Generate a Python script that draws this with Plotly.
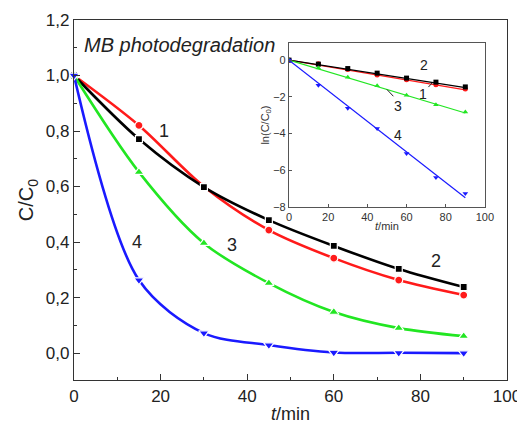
import plotly.graph_objects as go

# ---------------- data ----------------
t = [0, 15, 30, 45, 60, 75, 90]
s1 = [1.0, 0.82, 0.60, 0.443, 0.342, 0.263, 0.209]   # red circles
s2 = [1.0, 0.771, 0.598, 0.479, 0.386, 0.303, 0.238]  # black squares
s3 = [1.0, 0.652, 0.396, 0.252, 0.148, 0.09, 0.061]   # green triangles
s4 = [1.0, 0.263, 0.072, 0.029, 0.002, 0.001, 0.0]    # blue down triangles

# inset: ln(C/C0)
ln1 = [0, -0.20, -0.51, -0.81, -1.07, -1.34, -1.58]
ln2 = [0, -0.22, -0.46, -0.71, -0.98, -1.20, -1.46]
ln3 = [0, -0.43, -0.93, -1.40, -1.91, -2.43, -2.82]
ln4 = [0, -1.37, -2.62, -3.72, -5.08, -6.40, -7.27]
# linear fits
t_fit = [0, 90]
fit1 = [0, -1.62]
fit2 = [0, -1.50]
fit3 = [0, -2.88]
fit4 = [0, -7.50]

colors = {"1": "#ff1a1a", "2": "#000000", "3": "#22e622", "4": "#1a1aff"}
symbols = {"1": "circle", "2": "square", "3": "triangle-up", "4": "triangle-down"}
msize = {"1": 8, "2": 7, "3": 9, "4": 9}

FONT = "Arial, Liberation Sans, sans-serif"
fig = go.Figure()

main = [("1", s1), ("2", s2), ("3", s3), ("4", s4)]
for k, ys in main:
    fig.add_trace(go.Scatter(
        x=t, y=ys, mode="lines+markers",
        line=dict(color=colors[k], width=2.6, shape="spline", smoothing=0.9),
        marker=dict(symbol=symbols[k], size=msize[k], color=colors[k],
                    line=dict(color="white", width=1.2)),
        xaxis="x", yaxis="y", showlegend=False, cliponaxis=False))

inset = [("1", ln1, fit1), ("2", ln2, fit2), ("3", ln3, fit3), ("4", ln4, fit4)]
for k, ys, fy in inset:
    fig.add_trace(go.Scatter(
        x=t_fit, y=fy, mode="lines",
        line=dict(color=colors[k], width=1.2),
        xaxis="x2", yaxis="y2", showlegend=False))
    fig.add_trace(go.Scatter(
        x=t, y=ys, mode="markers",
        marker=dict(symbol=symbols[k], size=5, color=colors[k]),
        xaxis="x2", yaxis="y2", showlegend=False))

axis_common = dict(showgrid=False, zeroline=False, showline=True, linecolor="#333",
                   linewidth=1.2, mirror=True, ticks="inside", ticklen=6, automargin=False,
                   tickcolor="#333", tickfont=dict(family=FONT, size=17, color="#222"))
inset_common = dict(showgrid=False, zeroline=False, showline=True, linecolor="#555",
                    linewidth=1.2, mirror=True, ticks="inside", ticklen=3, tickcolor="#555",
                    automargin=False, tickfont=dict(family=FONT, size=11, color="#333"))

# page body has an 8px default margin; the figure is sized/margined to compensate
fig.update_layout(
    width=517, height=419,
    margin=dict(l=66, r=18, t=12, b=47),
    paper_bgcolor="white", plot_bgcolor="white",
    separators=",.",
    font=dict(family=FONT, color="#222"),
    xaxis=dict(range=[0, 100], tickvals=[0, 20, 40, 60, 80, 100],
               minor=dict(ticks="inside", ticklen=3, dtick=10, tickcolor="#333"),
               title=dict(text="<i>t</i>/min", font=dict(family=FONT, size=18, color="#222"), standoff=2),
               domain=[0, 1], **axis_common),
    yaxis=dict(range=[-0.097, 1.2], tickvals=[0, 0.2, 0.4, 0.6, 0.8, 1.0, 1.2],
               tickformat=".1f",
               minor=dict(ticks="inside", ticklen=3, dtick=0.1, tickcolor="#333"),
               title=dict(text="C/C<sub>0</sub>", font=dict(family=FONT, size=20, color="#222"), standoff=6),
               domain=[0, 1], **axis_common),
    xaxis2=dict(range=[0, 100], tickvals=[0, 20, 40, 60, 80, 100],
                domain=[0.4965, 0.949], anchor="y2",
                title=dict(text="<i>t</i>/min", font=dict(family=FONT, size=11, color="#333"), standoff=0),
                **inset_common),
    yaxis2=dict(range=[-8, 0.93], tickvals=[0, -2, -4, -6, -8],
                domain=[0.4806, 0.936], anchor="x2",
                title=dict(text="ln(C/C<sub>0</sub>)", font=dict(family=FONT, size=11, color="#333"), standoff=1),
                **inset_common),
)

ann = [
    dict(x=1.9, y=1.11, xref="x", yref="y", text="<i>MB photodegradation</i>", size=20, xanchor="left"),
    dict(x=20.7, y=0.80, xref="x", yref="y", text="1", size=18),
    dict(x=83.5, y=0.33, xref="x", yref="y", text="2", size=18),
    dict(x=36.5, y=0.39, xref="x", yref="y", text="3", size=18),
    dict(x=14.5, y=0.40, xref="x", yref="y", text="4", size=18),
    dict(x=69, y=-0.27, xref="x2", yref="y2", text="2", size=14),
    dict(x=55.6, y=-2.5, xref="x2", yref="y2", text="3", size=14),
    dict(x=55.6, y=-4.1, xref="x2", yref="y2", text="4", size=14),
    dict(x=68.4, y=-1.85, xref="x2", yref="y2", text="1", size=14),
]
for a in ann:
    fig.add_annotation(x=a["x"], y=a["y"], xref=a["xref"], yref=a["yref"], text=a["text"],
                       showarrow=False, xanchor=a.get("xanchor", "center"),
                       font=dict(family=FONT, size=a["size"], color="#222"))

# leader lines in inset
fig.add_annotation(x=73, y=-1.25, xref="x2", yref="y2", ax=70.5, ay=-1.55, axref="x2", ayref="y2",
                   text="", showarrow=True, arrowhead=0, arrowwidth=1, arrowcolor="#222")
fig.add_annotation(x=50, y=-1.6, xref="x2", yref="y2", ax=54, ay=-2.05, axref="x2", ayref="y2",
                   text="", showarrow=True, arrowhead=0, arrowwidth=1, arrowcolor="#222")

fig.write_html("out.html")
